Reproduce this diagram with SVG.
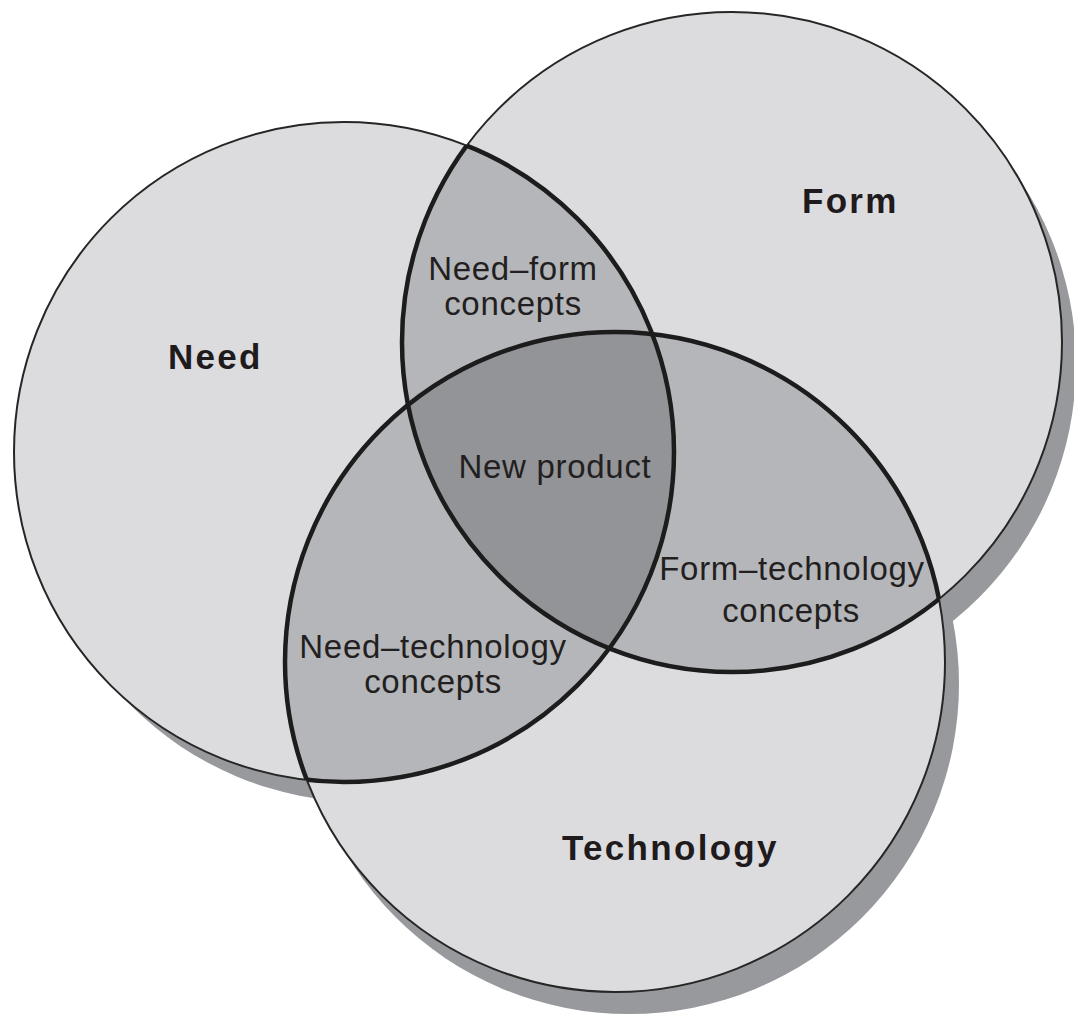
<svg xmlns="http://www.w3.org/2000/svg" width="1074" height="1017" viewBox="0 0 1074 1017">
<style>
.shadow{fill:#98999c}
.base{fill:#dcdcdf}
.pair{fill:#b5b6ba}
.triple{fill:#939498}
.thin{fill:none;stroke:#262626;stroke-width:2}
.thick{fill:none;stroke:#1c1c1c;stroke-width:4.5}
.title{font-family:"Liberation Sans",Arial,sans-serif;font-weight:bold;font-size:35px;letter-spacing:2.3px;fill:#1f1b1c}
.lbl{font-family:"Liberation Sans",Arial,sans-serif;font-size:33px;letter-spacing:0.7px;fill:#231f20;text-anchor:middle}
</style>
<defs>
<circle id="cN" cx="344" cy="452" r="330"/>
<circle id="cF" cx="732" cy="342" r="330"/>
<circle id="cT" cx="615" cy="662" r="330"/>
<clipPath id="clipN"><use href="#cN"/></clipPath>
<clipPath id="clipF"><use href="#cF"/></clipPath>
<clipPath id="clipFT"><use href="#cF"/><use href="#cT"/></clipPath>
<clipPath id="clipNT"><use href="#cN"/><use href="#cT"/></clipPath>
<clipPath id="clipNF"><use href="#cN"/><use href="#cF"/></clipPath>
</defs>
<rect width="1074" height="1017" fill="#ffffff"/>
<g id="shadows">
<use href="#cN" class="shadow" transform="translate(20,20)"/>
<use href="#cF" class="shadow" transform="translate(14,22)"/>
<use href="#cT" class="shadow" transform="translate(14,22)"/>
</g>
<g id="need">
<use href="#cN" class="base"/>
</g>
<g id="form">
<use href="#cF" class="base"/>
</g>
<g id="technology">
<use href="#cT" class="base"/>
</g>
<g id="need-form">
<use href="#cF" class="pair" clip-path="url(#clipN)"/>
</g>
<g id="need-technology">
<use href="#cT" class="pair" clip-path="url(#clipN)"/>
</g>
<g id="form-technology">
<use href="#cT" class="pair" clip-path="url(#clipF)"/>
</g>
<g id="new-product">
<g clip-path="url(#clipN)"><use href="#cT" class="triple" clip-path="url(#clipF)"/></g>
</g>
<g id="outlines">
<use href="#cN" class="thin"/>
<use href="#cF" class="thin"/>
<use href="#cT" class="thin"/>
<use href="#cN" class="thick" clip-path="url(#clipFT)"/>
<use href="#cF" class="thick" clip-path="url(#clipNT)"/>
<use href="#cT" class="thick" clip-path="url(#clipNF)"/>
</g>
<g id="labels">
<text class="title" x="168" y="369">Need</text>
<text class="title" x="802" y="213">Form</text>
<text class="title" x="562" y="860">Technology</text>
<text class="lbl" x="513" y="280">Need–form</text>
<text class="lbl" x="513" y="315">concepts</text>
<text class="lbl" x="555" y="478">New product</text>
<text class="lbl" x="433" y="658">Need–technology</text>
<text class="lbl" x="433" y="693">concepts</text>
<text class="lbl" x="792" y="580">Form–technology</text>
<text class="lbl" x="791" y="622">concepts</text>
</g>
</svg>
